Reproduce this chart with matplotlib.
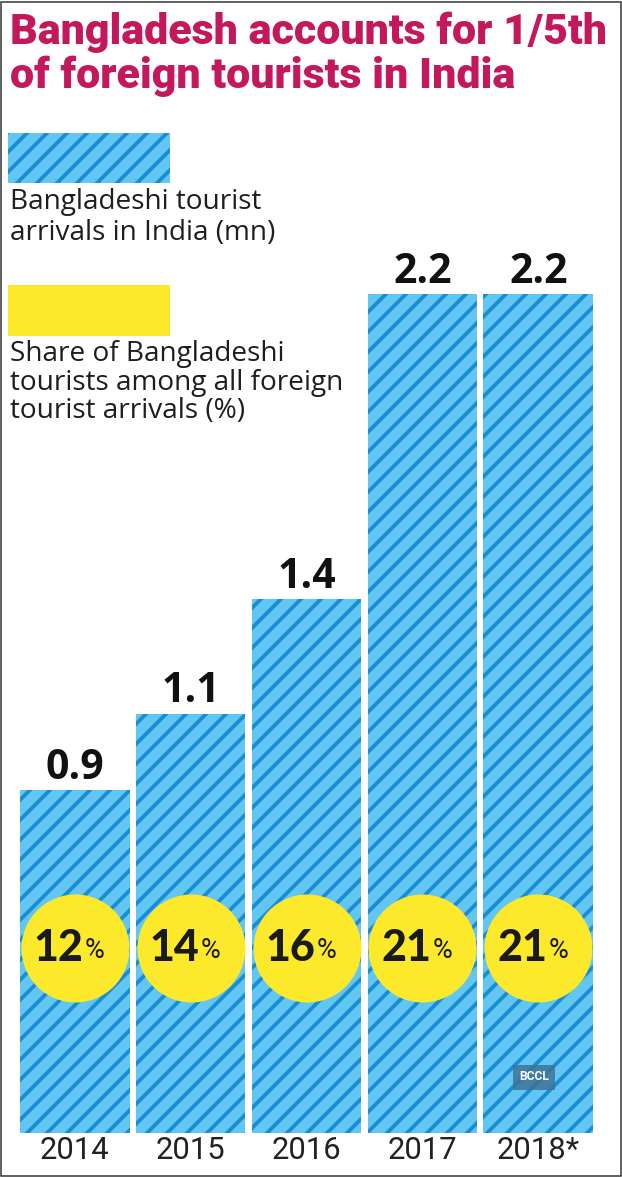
import matplotlib.pyplot as plt
from matplotlib.patches import Rectangle

# datos
years = ['2014', '2015', '2016', '2017', '2018*']
arrivals_mn = [0.9, 1.1, 1.4, 2.2, 2.2]
arrival_labels = ['0.9', '1.1', '1.4', '2.2', '2.2']
share_pct = [12, 14, 16, 21, 21]

W, H = 622, 1177
DPI = 60  # con dpi 60 el rayado '/' queda cada ~10 px como en el original
light_blue = '#62c6f3'
dark_blue = '#1a8dd2'
yellow = '#fde92b'
magenta = '#c4185c'
ink = '#1a1a1a'


def pt(px):
    # tamaños en pixeles -> puntos
    return px * 72 / DPI


def fx(x):
    return x / W


def fy(y):
    return 1 - y / H


plt.rcParams['hatch.linewidth'] = pt(3.8)
plt.rcParams['hatch.color'] = dark_blue

fig = plt.figure(figsize=(W / DPI, H / DPI), dpi=DPI)
fig.patch.set_facecolor('white')

# eje de barras: de x=20 a 593 px, de y=294 (2.2) a 1133 px (0)
ax = fig.add_axes([fx(20), fy(1133), fx(593) - fx(20), fy(294) - fy(1133)])
width = 0.945
bars = ax.bar(range(len(years)), arrivals_mn, width=width, color=light_blue,
              edgecolor=dark_blue, linewidth=0, hatch='/')
ax.set_xlim(-width / 2, len(years) - 1 + width / 2)
ax.set_ylim(0, max(arrivals_mn))
for s in ax.spines.values():
    s.set_visible(False)
ax.set_yticks([])
ax.set_xticks(range(len(years)))
ax.set_xticklabels(years, family=['Roboto', 'DejaVu Sans'], fontweight='normal',
                   fontsize=pt(31), color='#222222')
ax.tick_params(axis='x', length=0, pad=pt(3))

ax.bar_label(bars, labels=arrival_labels, padding=pt(1), fontsize=pt(41),
             fontweight='bold', family=['Open Sans', 'DejaVu Sans'], color='#111111')

# circulos amarillos con el porcentaje
circle_y = 0.485
ax.scatter(range(len(years)), [circle_y] * len(years), s=pt(108) ** 2, color=yellow,
           zorder=3, linewidths=0)
for i, p in enumerate(share_pct):
    ax.annotate(str(p), (i, circle_y), xytext=(pt(9), 0), textcoords='offset points',
                ha='right', va='center', fontsize=pt(43), fontweight='black',
                family=['Lato', 'DejaVu Sans'], color=ink, zorder=4)
    ax.annotate('%', (i, circle_y), xytext=(pt(10), pt(-2)), textcoords='offset points',
                ha='left', va='center', fontsize=pt(27),
                family=['Roboto', 'DejaVu Sans'], color=ink, zorder=4)

# marca de agua BCCL
ax.annotate('BCCL', (len(years) - 1, 0), xytext=(pt(-4), pt(56)), textcoords='offset points',
            ha='center', va='center', fontsize=pt(12), fontweight='bold', color='white',
            family=['Roboto', 'DejaVu Sans'],
            bbox=dict(boxstyle='square,pad=0.5', fc='#3f7399', ec='none', alpha=0.85))

# titulo: se ajusta el tamaño para que la primera linea ocupe ~598 px
t1 = fig.text(fx(10), fy(12), 'Bangladesh accounts for 1/5th', ha='left', va='top',
              fontsize=pt(44), fontweight='heavy', family=['Roboto', 'DejaVu Sans'],
              color=magenta)
t2 = fig.text(fx(10), fy(56), 'of foreign tourists in India', ha='left', va='top',
              fontsize=pt(44), fontweight='heavy', family=['Roboto', 'DejaVu Sans'],
              color=magenta)
renderer = fig.canvas.get_renderer()
w1 = t1.get_window_extent(renderer).width
new_size = t1.get_fontsize() * 598 / w1
t1.set_fontsize(new_size)
t2.set_fontsize(new_size)

# leyenda
fig.add_artist(Rectangle((fx(8), fy(183)), fx(170) - fx(8), fy(133) - fy(183),
                         transform=fig.transFigure, facecolor=light_blue,
                         edgecolor=dark_blue, linewidth=0, hatch='/'))
fig.text(fx(10), fy(188), 'Bangladeshi tourist\narrivals in India (mn)',
         ha='left', va='top', fontsize=pt(28), linespacing=1.12,
         family=['Open Sans', 'DejaVu Sans'], color='#1e1e1e')
fig.add_artist(Rectangle((fx(8), fy(336)), fx(170) - fx(8), fy(285) - fy(336),
                         transform=fig.transFigure, facecolor=yellow, linewidth=0))
fig.text(fx(10), fy(340), 'Share of Bangladeshi\ntourists among all foreign\ntourist arrivals (%)',
         ha='left', va='top', fontsize=pt(28), linespacing=1.03,
         family=['Open Sans', 'DejaVu Sans'], color='#1e1e1e')

# borde
fig.add_artist(Rectangle((0.001, 0.001), 0.997, 0.997, transform=fig.transFigure,
                         fill=False, edgecolor='#333333', linewidth=pt(1.5)))

fig.savefig('out.png', dpi=DPI)
